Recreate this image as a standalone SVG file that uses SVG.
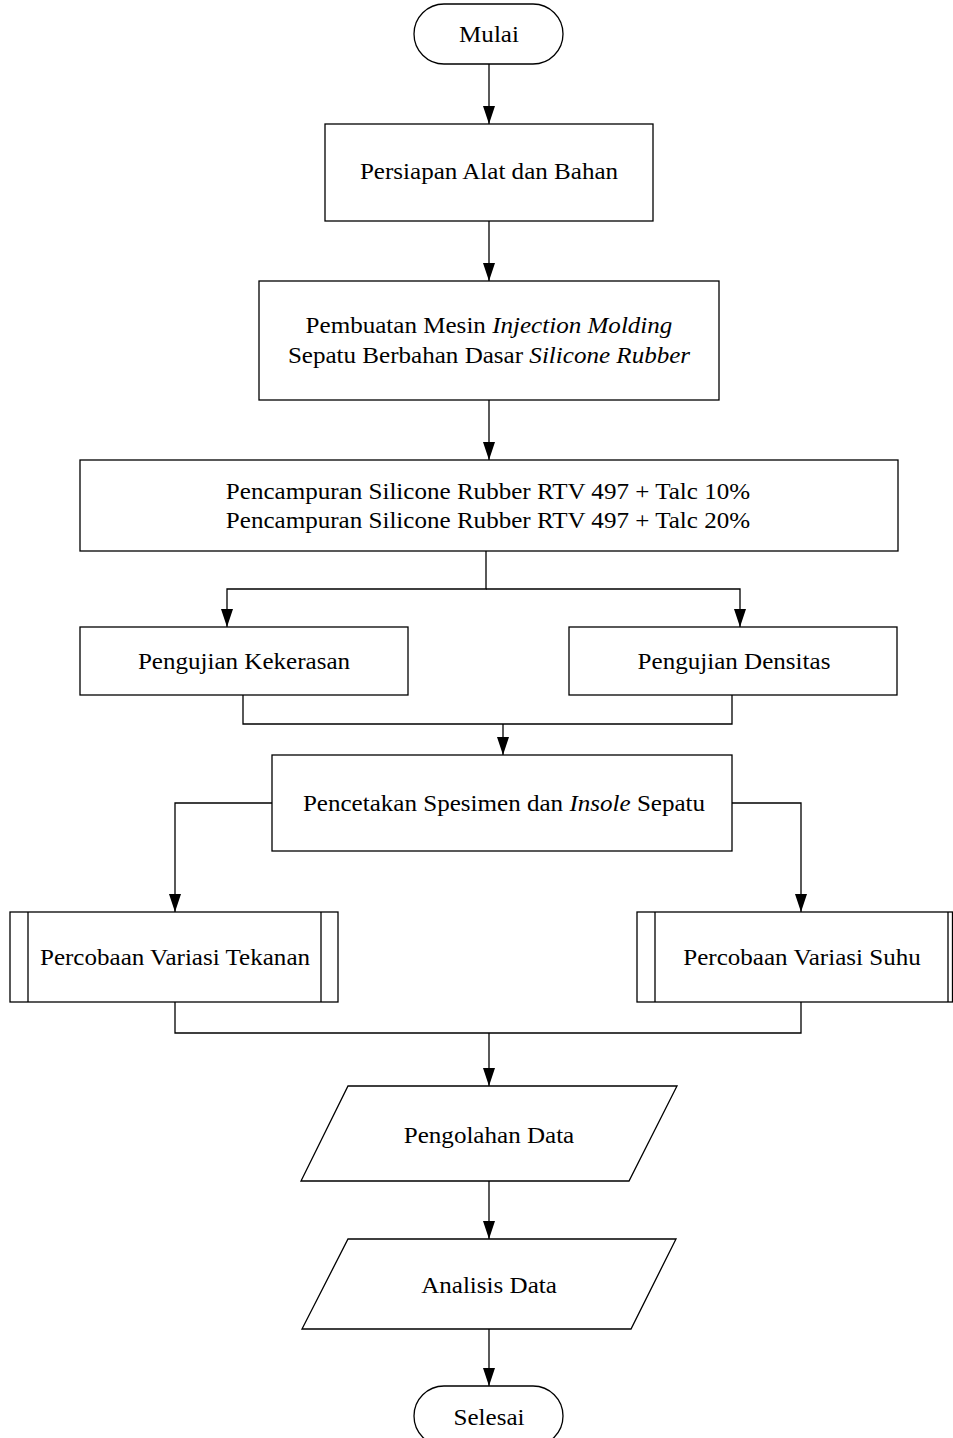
<svg xmlns="http://www.w3.org/2000/svg" width="953" height="1438" viewBox="0 0 953 1438">
<style>
.s{fill:#fff;stroke:#000;stroke-width:1.3}
.c{fill:none;stroke:#000;stroke-width:1.3}
.a{marker-end:url(#arr)}
text{font-family:"Liberation Serif","Times New Roman",serif;font-size:23px;fill:#000;text-anchor:middle}
.i{font-style:italic}
</style>
<defs>
<marker id="arr" viewBox="0 0 18 12" refX="18" refY="6" markerWidth="18" markerHeight="12" markerUnits="userSpaceOnUse" orient="auto">
<path d="M0,0 L18,6 L0,12 Z" fill="#000"/>
</marker>
</defs>
<rect width="953" height="1438" fill="#fff"/>
<g id="connectors">
<path class="c a" d="M489,64 V124"/>
<path class="c a" d="M489,221 V281"/>
<path class="c a" d="M489,400 V460"/>
<path class="c a" d="M486,551 V589 H227 V627"/>
<path class="c a" d="M486,589 H740 V627"/>
<path class="c" d="M243,695 V724 H732 V695"/>
<path class="c a" d="M503,724 V755"/>
<path class="c a" d="M272,803 H175 V912"/>
<path class="c a" d="M732,803 H801 V912"/>
<path class="c" d="M175,1002 V1033 H801 V1002"/>
<path class="c a" d="M489,1033 V1086"/>
<path class="c a" d="M489,1181 V1239"/>
<path class="c a" d="M489,1329 V1386"/>
</g>
<g id="mulai">
<rect class="s" x="414" y="4" width="149" height="60" rx="30"/>
<text transform="translate(489,42) scale(1.09,1)">Mulai</text>
</g>
<g id="persiapan">
<rect class="s" x="325" y="124" width="328" height="97"/>
<text transform="translate(489,179) scale(1.09,1)">Persiapan Alat dan Bahan</text>
</g>
<g id="pembuatan">
<rect class="s" x="259" y="281" width="460" height="119"/>
<text transform="translate(489,333) scale(1.09,1)">Pembuatan Mesin <tspan class="i">Injection Molding</tspan></text>
<text transform="translate(489,363) scale(1.09,1)">Sepatu Berbahan Dasar <tspan class="i">Silicone Rubber</tspan></text>
</g>
<g id="pencampuran">
<rect class="s" x="80" y="460" width="818" height="91"/>
<text transform="translate(488,499) scale(1.09,1)">Pencampuran Silicone Rubber RTV 497 + Talc 10%</text>
<text transform="translate(488,528) scale(1.09,1)">Pencampuran Silicone Rubber RTV 497 + Talc 20%</text>
</g>
<g id="kekerasan">
<rect class="s" x="80" y="627" width="328" height="68"/>
<text transform="translate(244,669) scale(1.09,1)">Pengujian Kekerasan</text>
</g>
<g id="densitas">
<rect class="s" x="569" y="627" width="328" height="68"/>
<text transform="translate(734,669) scale(1.09,1)">Pengujian Densitas</text>
</g>
<g id="pencetakan">
<rect class="s" x="272" y="755" width="460" height="96"/>
<text transform="translate(504,811) scale(1.09,1)">Pencetakan Spesimen dan <tspan class="i">Insole</tspan> Sepatu</text>
</g>
<g id="tekanan">
<rect class="s" x="10" y="912" width="328" height="90"/>
<path class="c" d="M28,912 V1002 M321,912 V1002"/>
<text transform="translate(175,965) scale(1.09,1)">Percobaan Variasi Tekanan</text>
</g>
<g id="suhu">
<rect class="s" x="637" y="912" width="315.5" height="90"/>
<path class="c" d="M655,912 V1002 M948,912 V1002"/>
<text transform="translate(802,965) scale(1.09,1)">Percobaan Variasi Suhu</text>
</g>
<g id="pengolahan">
<polygon class="s" points="348,1086 677,1086 629,1181 301,1181"/>
<text transform="translate(489,1143) scale(1.09,1)">Pengolahan Data</text>
</g>
<g id="analisis">
<polygon class="s" points="348,1239 676,1239 631,1329 302,1329"/>
<text transform="translate(489,1293) scale(1.09,1)">Analisis Data</text>
</g>
<g id="selesai">
<rect class="s" x="414" y="1386" width="149" height="60" rx="30"/>
<text transform="translate(489,1425) scale(1.09,1)">Selesai</text>
</g>
</svg>
